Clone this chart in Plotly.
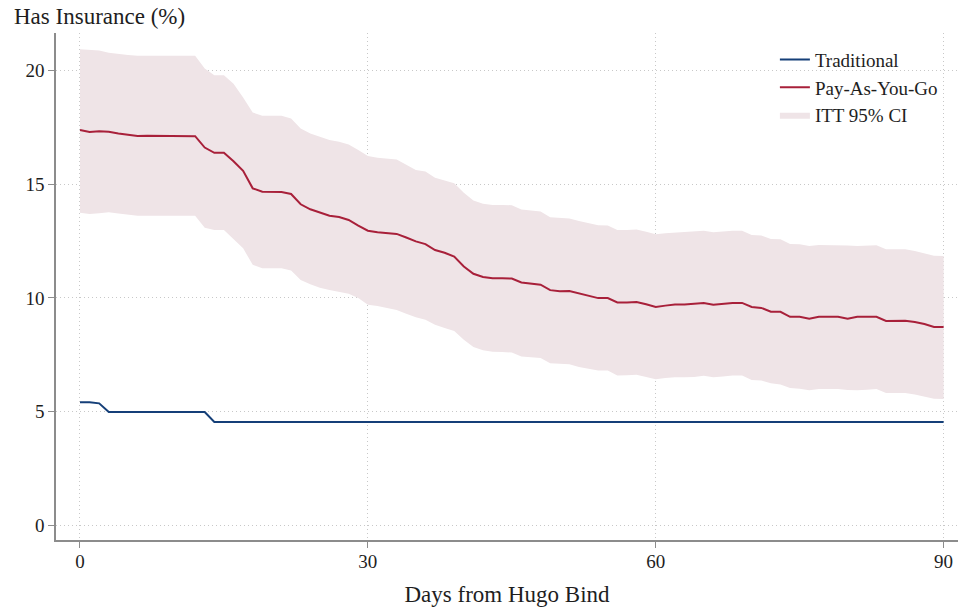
import plotly.graph_objects as go

days = list(range(0, 91))

traditional = [5.42, 5.42, 5.37] + [4.99] * 11 + [4.55] * 77

payg = [17.37, 17.28, 17.32, 17.29, 17.22, 17.16, 17.11, 17.12, 17.12, 17.12,
        17.12, 17.12, 17.10, 16.60, 16.37, 16.37, 16.00, 15.58, 14.81, 14.66,
        14.66, 14.65, 14.56, 14.11, 13.89, 13.74, 13.61, 13.55, 13.42, 13.17,
        12.95, 12.88, 12.84, 12.81, 12.65, 12.48, 12.36, 12.10, 11.98, 11.81,
        11.38, 11.06, 10.92, 10.86, 10.86, 10.85, 10.68, 10.62, 10.58, 10.34,
        10.29, 10.30, 10.20, 10.09, 9.99, 9.99, 9.80, 9.80, 9.82, 9.72,
        9.60, 9.66, 9.71, 9.71, 9.73, 9.78, 9.70, 9.74, 9.78, 9.78,
        9.60, 9.56, 9.39, 9.39, 9.17, 9.17, 9.08, 9.17, 9.17, 9.17,
        9.08, 9.17, 9.17, 9.17, 8.99, 8.99, 9.00, 8.94, 8.85, 8.72, 8.72]

ci_upper = [20.92, 20.90, 20.86, 20.76, 20.70, 20.66, 20.63, 20.63, 20.63, 20.63,
            20.63, 20.63, 20.63, 20.07, 19.78, 19.78, 19.40, 18.80, 18.14, 18.00,
            18.00, 18.00, 17.88, 17.44, 17.22, 17.07, 16.93, 16.86, 16.74, 16.49,
            16.23, 16.15, 16.12, 16.08, 15.85, 15.62, 15.55, 15.27, 15.15, 15.03,
            14.62, 14.28, 14.13, 14.08, 14.08, 14.07, 13.88, 13.82, 13.79, 13.54,
            13.50, 13.49, 13.38, 13.28, 13.19, 13.18, 12.98, 12.98, 13.00, 12.90,
            12.79, 12.84, 12.87, 12.88, 12.90, 12.95, 12.88, 12.92, 12.95, 12.95,
            12.76, 12.74, 12.59, 12.57, 12.37, 12.36, 12.28, 12.32, 12.32, 12.32,
            12.30, 12.28, 12.30, 12.31, 12.13, 12.12, 12.13, 12.06, 11.95, 11.85, 11.84]

ci_lower = [13.74, 13.68, 13.72, 13.76, 13.70, 13.65, 13.61, 13.61, 13.61, 13.61,
            13.61, 13.61, 13.61, 13.08, 12.98, 12.98, 12.60, 12.18, 11.45, 11.30,
            11.30, 11.30, 11.20, 10.79, 10.60, 10.45, 10.35, 10.28, 10.18, 9.99,
            9.70, 9.64, 9.55, 9.47, 9.30, 9.15, 9.04, 8.82, 8.68, 8.55,
            8.16, 7.84, 7.70, 7.64, 7.62, 7.60, 7.43, 7.38, 7.36, 7.13,
            7.10, 7.09, 6.97, 6.90, 6.81, 6.81, 6.59, 6.60, 6.63, 6.53,
            6.43, 6.48, 6.52, 6.52, 6.53, 6.58, 6.52, 6.55, 6.59, 6.59,
            6.40, 6.37, 6.25, 6.20, 6.04, 6.01, 5.94, 6.00, 6.00, 6.00,
            5.96, 5.94, 5.97, 6.00, 5.82, 5.82, 5.82, 5.76, 5.65, 5.57, 5.56]

x_ticks = [0, 30, 60, 90]
y_ticks = [0, 5, 10, 15, 20]

FONT = "Liberation Serif, Times New Roman, serif"
BLUE = "#153f78"
RED = "#a8203a"
BAND = "#efe4e7"
TXT = "#1e1e1e"

fig = go.Figure()

fig.add_trace(go.Scatter(x=days, y=ci_lower, mode="lines", line=dict(width=0, color=BAND),
                         showlegend=False, hoverinfo="skip"))
fig.add_trace(go.Scatter(x=days, y=ci_upper, mode="lines", line=dict(width=0, color=BAND),
                         fill="tonexty", fillcolor=BAND, name="ITT 95% CI",
                         legendrank=3, legendgroup="c"))
fig.add_trace(go.Scatter(x=days, y=traditional, mode="lines", line=dict(width=2, color=BLUE),
                         name="Traditional", legendrank=1, legendgroup="a"))
fig.add_trace(go.Scatter(x=days, y=payg, mode="lines", line=dict(width=2, color=RED),
                         name="Pay-As-You-Go", legendrank=2, legendgroup="b"))

axis_common = dict(
    showline=True, linecolor="#8c8c8c", linewidth=1.5,
    ticks="outside", ticklen=6, tickcolor="#8c8c8c", tickwidth=1.2,
    showgrid=True, gridcolor="#c8c8c8", gridwidth=1, griddash="1px,3px",
    zeroline=False, mirror=False,
    tickfont=dict(family=FONT, size=19, color=TXT),
)

fig.update_layout(
    width=960, height=614,
    margin=dict(l=56, r=2, t=33, b=74),
    paper_bgcolor="white", plot_bgcolor="white",
    font=dict(family=FONT, color=TXT),
    xaxis=dict(range=[-2.5, 91.5], tickvals=x_ticks, ticktext=[str(v) for v in x_ticks],
               title=dict(text="Days from Hugo Bind", font=dict(family=FONT, size=23, color=TXT), standoff=15),
               ticklabelstandoff=-3,
               **axis_common),
    yaxis=dict(range=[-0.63, 21.63], tickvals=y_ticks, ticktext=[str(v) for v in y_ticks],
               **axis_common),
    legend=dict(x=0.797, y=0.985, xanchor="left", yanchor="top",
                font=dict(family=FONT, size=19, color=TXT),
                bgcolor="rgba(255,255,255,0)", tracegroupgap=6, traceorder="normal"),
    annotations=[dict(text="Has Insurance (%)", xref="paper", yref="paper",
                      x=-44/902, y=1.0, xanchor="left", yanchor="bottom", yshift=2,
                      showarrow=False, font=dict(family=FONT, size=23, color=TXT))],
)

fig.write_html("out.html")
